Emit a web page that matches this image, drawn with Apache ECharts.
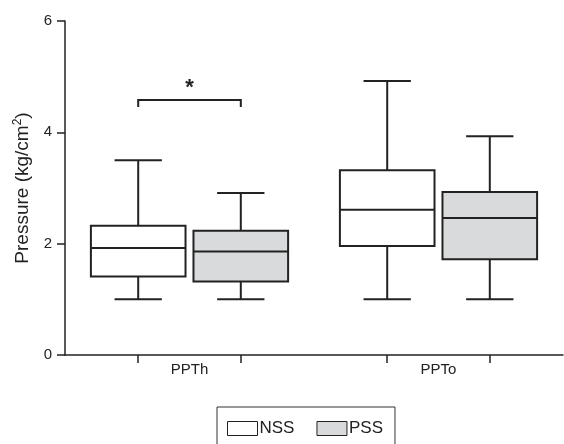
<!DOCTYPE html>
<html>
<head>
<meta charset="utf-8">
<script src="https://cdn.jsdelivr.net/npm/echarts@6/dist/echarts.min.js"></script>
<style>
  html, body { margin: 0; padding: 0; background: #fff; }
  #chart { width: 564px; height: 444px; }
</style>
</head>
<body>
<div id="chart"></div>
<script>
// categories and groups
const categories = ['PPTh', 'PPTo'];
const groups = ['NSS', 'PSS'];

// [min, Q1, median, Q3, max] per category
const nssBoxes = [
    [1.0, 1.41, 1.92, 2.32, 3.50],
    [1.0, 1.96, 2.61, 3.32, 4.92]
];
const pssBoxes = [
    [1.0, 1.32, 1.86, 2.23, 2.91],
    [1.0, 1.72, 2.46, 2.93, 3.93]
];

// significance bracket
const sigCategories = [0];
const sigHeights = [4.58];
const sigLabels = ['*'];

const yTicks = [0, 2, 4, 6];

(function () {
    const INK = '#222';
    const GREY = '#d9dadb';
    const BOX_OFFSET = 0.206;   // share of a category band
    const BOX_WIDTH = 0.38;
    const CAP_WIDTH = 0.19;

    const fills = [ '#ffffff', GREY ];

    function boxRenderer(side) {
        return function (params, api) {
            const cat = api.value(0);
            const band = api.size([1, 0])[0];
            const off = side * BOX_OFFSET * band;
            const w = BOX_WIDTH * band;
            const cap = CAP_WIDTH * band;
            const pts = [1, 2, 3, 4, 5].map(i => api.coord([cat + 0.5, api.value(i)]));
            const x = pts[0][0] + off;
            const line = {stroke: INK, lineWidth: 2};
            return {
                type: 'group',
                children: [
                    {type: 'line', shape: {x1: x, y1: pts[0][1], x2: x, y2: pts[4][1]}, style: line},
                    {type: 'line', shape: {x1: x - cap / 2, y1: pts[0][1], x2: x + cap / 2, y2: pts[0][1]}, style: line},
                    {type: 'line', shape: {x1: x - cap / 2, y1: pts[4][1], x2: x + cap / 2, y2: pts[4][1]}, style: line},
                    {
                        type: 'rect',
                        shape: {x: x - w / 2, y: pts[3][1], width: w, height: pts[1][1] - pts[3][1]},
                        style: {fill: fills[side < 0 ? 0 : 1], stroke: INK, lineWidth: 2}
                    },
                    {type: 'line', shape: {x1: x - w / 2, y1: pts[2][1], x2: x + w / 2, y2: pts[2][1]}, style: line}
                ]
            };
        };
    }

    function sigRenderer(params, api) {
        const cat = api.value(0);
        const band = api.size([1, 0])[0];
        const p = api.coord([cat + 0.5, api.value(1)]);
        const x1 = p[0] - BOX_OFFSET * band;
        const x2 = p[0] + BOX_OFFSET * band;
        const line = {stroke: INK, lineWidth: 2};
        return {
            type: 'group',
            children: [
                {type: 'polyline', shape: {points: [[x1, p[1] + 7], [x1, p[1]], [x2, p[1]], [x2, p[1] + 7]]}, style: Object.assign({fill: null}, line)},
                {
                    type: 'text',
                    style: {
                        text: sigLabels[params.dataIndex], x: p[0], y: p[1] - 12,
                        align: 'center', verticalAlign: 'middle',
                        font: 'bold 22px "Liberation Sans", Arial, sans-serif', fill: INK
                    }
                }
            ]
        };
    }

    const makeData = boxes => boxes.map((b, i) => [i].concat(b));

    const chart = echarts.init(document.getElementById('chart'));
    const option = {
        animation: false,
        textStyle: {fontFamily: '"Liberation Sans", Arial, sans-serif', color: INK},
        grid: {left: 65, right: 1, top: 21, bottom: 89},
        legend: {
            left: 217, top: 407,
            orient: 'horizontal',
            itemWidth: 30, itemHeight: 14, itemGap: 22,
            padding: [13, 12, 13, 10],
            borderColor: '#333', borderWidth: 1,
            textStyle: {fontSize: 17, color: INK, padding: [0, 0, 0, -3]},
            data: [
                {name: groups[0], icon: 'rect', itemStyle: {color: '#fff', borderColor: INK, borderWidth: 1}},
                {name: groups[1], icon: 'rect', itemStyle: {color: GREY, borderColor: INK, borderWidth: 1}}
            ]
        },
        xAxis: {
            type: 'value', min: 0, max: categories.length,
            splitLine: {show: false},
            axisLine: {show: true, lineStyle: {color: INK, width: 1.5}},
            axisTick: {
                show: true, length: 8, lineStyle: {color: INK, width: 1.5},
                customValues: categories.flatMap((c, i) => [i + 0.5 - BOX_OFFSET, i + 0.5 + BOX_OFFSET])
            },
            axisLabel: {
                fontSize: 15, color: INK, margin: 7,
                customValues: categories.map((c, i) => i + 0.5),
                formatter: v => categories[Math.round(v - 0.5)]
            }
        },
        yAxis: {
            type: 'value', min: 0, max: 6, interval: 2,
            splitLine: {show: false},
            axisLine: {show: true, lineStyle: {color: INK, width: 1.5}},
            axisTick: {show: true, length: 8, lineStyle: {color: INK, width: 1.5}},
            axisLabel: {fontSize: 15, color: INK, margin: 13,
                formatter: v => yTicks.includes(v) ? String(v) : ''},
            name: 'Pressure (kg/cm{sup|2})',
            nameLocation: 'middle',
            nameRotate: 90,
            nameGap: 32,
            nameTextStyle: {
                fontSize: 19, color: INK,
                rich: {sup: {fontSize: 12, color: INK, padding: [0, 0, 9, 0]}}
            }
        },
        series: [
            {
                name: groups[0], type: 'custom',
                itemStyle: {color: '#fff', borderColor: INK},
                renderItem: boxRenderer(-1),
                encode: {x: 0, y: [1, 2, 3, 4, 5]},
                data: makeData(nssBoxes)
            },
            {
                name: groups[1], type: 'custom',
                itemStyle: {color: GREY, borderColor: INK},
                renderItem: boxRenderer(1),
                encode: {x: 0, y: [1, 2, 3, 4, 5]},
                data: makeData(pssBoxes)
            },
            {
                name: 'sig', type: 'custom',
                renderItem: sigRenderer,
                encode: {x: 0, y: 1},
                data: sigCategories.map((c, i) => [c, sigHeights[i]])
            }
        ]
    };
    chart.setOption(option);
})();
</script>
</body>
</html>
